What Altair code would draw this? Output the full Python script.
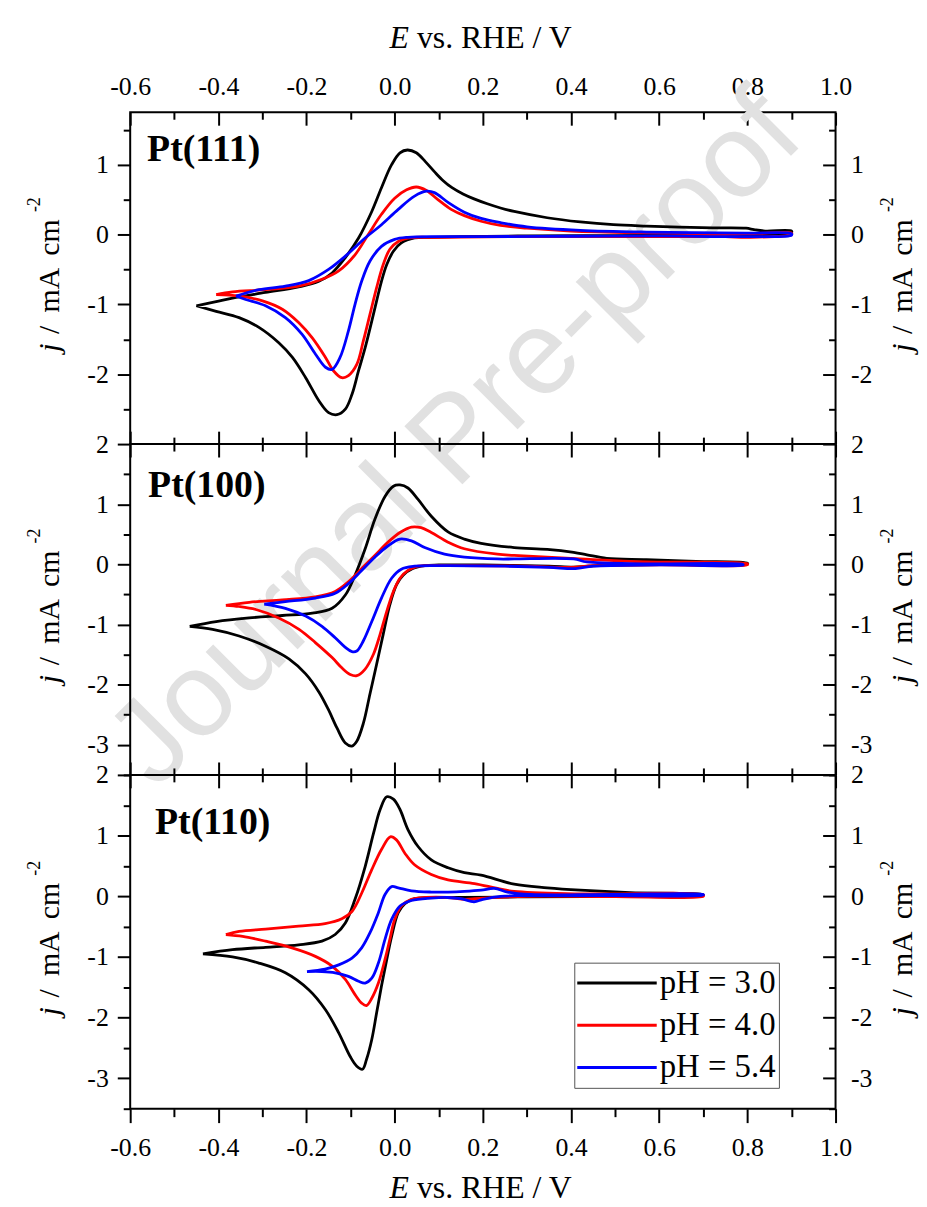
import altair as alt
import pandas as pd

FONT = "Times New Roman"
PH = ["pH = 3.0", "pH = 4.0", "pH = 5.4"]
COLORS = ["#000000", "#ff0000", "#0000ff"]

X_MAJOR = [-0.6, -0.4, -0.2, 0.0, 0.2, 0.4, 0.6, 0.8, 1.0]
X_MINOR = [-0.5, -0.3, -0.1, 0.1, 0.3, 0.5, 0.7, 0.9]
X_DOMAIN = [-0.6, 1.0]

# ---- Pt(111) : (E / V, j / mA cm-2) along the sweep ----
PT111_PH30 = [(-0.450,-1.02),(-0.405,-0.96),(-0.368,-0.91),(-0.293,-0.83),(-0.218,-0.75),(-0.172,-0.67),
 (-0.142,-0.55),(-0.112,-0.33),(-0.082,-0.05),(-0.052,0.33),(-0.030,0.67),(-0.007,1.00),(0.012,1.17),
 (0.029,1.21),(0.049,1.17),(0.070,1.04),(0.090,0.90),(0.110,0.77),(0.130,0.67),(0.155,0.58),(0.180,0.51),
 (0.210,0.44),(0.240,0.38),(0.271,0.33),(0.346,0.24),(0.421,0.18),(0.496,0.14),(0.571,0.12),(0.646,0.105),
 (0.721,0.095),(0.797,0.09),(0.815,0.07),(0.840,0.05),(0.900,0.05),(0.900,0.03),(0.850,0.00),(0.800,-0.01),
 (0.700,-0.01),(0.500,-0.015),(0.300,-0.02),(0.150,-0.03),(0.080,-0.04),(0.045,-0.05),(0.015,-0.12),
 (-0.003,-0.24),(-0.018,-0.43),(-0.030,-0.67),(-0.041,-0.95),(-0.052,-1.24),(-0.067,-1.62),(-0.082,-1.95),
 (-0.097,-2.29),(-0.112,-2.50),(-0.131,-2.58),(-0.150,-2.55),(-0.172,-2.38),(-0.202,-2.05),(-0.232,-1.76),
 (-0.263,-1.55),(-0.308,-1.33),(-0.353,-1.19),(-0.405,-1.10),(-0.450,-1.02)]
PT111_PH40 = [(-0.405,-0.86),(-0.368,-0.82),(-0.293,-0.79),(-0.218,-0.74),(-0.165,-0.64),(-0.127,-0.52),
 (-0.090,-0.29),(-0.060,0.00),(-0.030,0.29),(0.000,0.52),(0.027,0.64),(0.049,0.68),(0.072,0.63),(0.098,0.50),
 (0.128,0.36),(0.158,0.27),(0.196,0.19),(0.240,0.13),(0.300,0.09),(0.400,0.05),(0.571,0.025),(0.797,0.01),
 (0.900,0.02),(0.900,0.00),(0.800,-0.04),(0.750,-0.03),(0.600,-0.03),(0.300,-0.03),(0.100,-0.04),(0.030,-0.05),
 (0.008,-0.10),(-0.011,-0.21),(-0.026,-0.43),(-0.041,-0.76),(-0.056,-1.14),(-0.071,-1.52),(-0.086,-1.86),
 (-0.105,-2.02),(-0.120,-2.05),(-0.139,-1.95),(-0.157,-1.76),(-0.187,-1.48),(-0.218,-1.26),(-0.255,-1.07),
 (-0.300,-0.95),(-0.353,-0.88),(-0.405,-0.86)]
PT111_PH54 = [(-0.360,-0.88),(-0.308,-0.79),(-0.248,-0.74),(-0.195,-0.66),(-0.150,-0.50),(-0.112,-0.31),
 (-0.067,-0.05),(-0.030,0.14),(0.008,0.36),(0.045,0.55),(0.072,0.62),(0.090,0.60),(0.121,0.46),(0.158,0.32),
 (0.196,0.23),(0.240,0.17),(0.300,0.11),(0.421,0.06),(0.571,0.035),(0.797,0.02),(0.900,0.01),
 (0.900,-0.01),(0.800,-0.03),(0.600,-0.02),(0.400,-0.025),(0.200,-0.03),(0.100,-0.03),(0.030,-0.04),
 (0.000,-0.07),(-0.030,-0.17),(-0.056,-0.38),(-0.075,-0.67),(-0.090,-1.00),(-0.105,-1.38),(-0.124,-1.76),
 (-0.142,-1.93),(-0.157,-1.90),(-0.180,-1.71),(-0.210,-1.43),(-0.248,-1.19),(-0.293,-1.02),(-0.338,-0.93),
 (-0.360,-0.88)]

# ---- Pt(100) ----
PT100_PH30 = [(-0.465,-1.03),(-0.405,-0.95),(-0.330,-0.89),(-0.255,-0.85),(-0.187,-0.81),(-0.142,-0.73),
 (-0.112,-0.51),(-0.090,-0.18),(-0.067,0.26),(-0.045,0.75),(-0.022,1.13),(-0.003,1.30),(0.012,1.32),
 (0.030,1.27),(0.053,1.08),(0.083,0.80),(0.121,0.54),(0.158,0.42),(0.196,0.35),(0.271,0.28),(0.346,0.25),
 (0.406,0.20),(0.436,0.16),(0.481,0.10),(0.571,0.08),(0.684,0.05),(0.800,0.02),(0.800,0.00),(0.700,-0.005),
 (0.500,-0.01),(0.440,-0.03),(0.406,-0.045),(0.350,-0.03),(0.200,-0.01),(0.100,-0.01),(0.068,-0.02),
 (0.041,-0.07),(0.019,-0.18),(0.004,-0.34),(-0.011,-0.67),(-0.026,-1.16),(-0.041,-1.66),(-0.056,-2.15),
 (-0.071,-2.64),(-0.086,-2.94),(-0.097,-3.02),(-0.112,-2.97),(-0.131,-2.72),(-0.150,-2.42),(-0.172,-2.12),
 (-0.202,-1.82),(-0.240,-1.57),(-0.293,-1.36),(-0.353,-1.19),(-0.413,-1.08),(-0.465,-1.03)]
PT100_PH40 = [(-0.383,-0.68),(-0.330,-0.63),(-0.255,-0.59),(-0.180,-0.54),(-0.135,-0.45),(-0.105,-0.29),
 (-0.075,-0.07),(-0.045,0.15),(-0.015,0.37),(0.012,0.53),(0.038,0.62),(0.060,0.61),(0.083,0.53),(0.121,0.37),
 (0.158,0.26),(0.233,0.17),(0.271,0.15),(0.421,0.09),(0.571,0.04),(0.800,0.01),(0.800,-0.005),(0.600,-0.01),
 (0.450,-0.02),(0.400,-0.05),(0.300,-0.03),(0.150,-0.02),(0.080,-0.02),(0.053,-0.03),(0.030,-0.10),
 (0.012,-0.23),(-0.003,-0.45),(-0.018,-0.78),(-0.033,-1.16),(-0.048,-1.49),(-0.067,-1.74),(-0.086,-1.85),
 (-0.101,-1.83),(-0.120,-1.72),(-0.142,-1.55),(-0.180,-1.30),(-0.217,-1.08),(-0.263,-0.89),(-0.315,-0.75),
 (-0.353,-0.70),(-0.383,-0.68)]
PT100_PH54 = [(-0.296,-0.66),(-0.248,-0.62),(-0.180,-0.56),(-0.135,-0.48),(-0.105,-0.32),(-0.075,-0.10),
 (-0.045,0.12),(-0.015,0.31),(0.012,0.42),(0.038,0.39),(0.068,0.28),(0.113,0.17),(0.158,0.12),(0.233,0.09),
 (0.271,0.09),(0.406,0.09),(0.436,0.04),(0.571,0.01),(0.790,0.00),(0.790,-0.01),(0.600,-0.01),(0.450,-0.03),
 (0.410,-0.07),(0.350,-0.05),(0.250,-0.03),(0.100,-0.02),(0.045,-0.03),(0.015,-0.08),(-0.007,-0.23),
 (-0.030,-0.56),(-0.052,-0.95),(-0.071,-1.27),(-0.086,-1.44),(-0.097,-1.45),(-0.112,-1.38),(-0.135,-1.22),
 (-0.165,-1.03),(-0.202,-0.86),(-0.248,-0.73),(-0.296,-0.66)]

# ---- Pt(110) ----
PT110_PH30 = [(-0.435,-0.95),(-0.368,-0.88),(-0.293,-0.84),(-0.218,-0.80),(-0.165,-0.74),(-0.135,-0.63),
 (-0.112,-0.44),(-0.090,-0.05),(-0.067,0.49),(-0.048,1.04),(-0.033,1.43),(-0.018,1.64),(-0.003,1.60),
 (0.012,1.43),(0.030,1.10),(0.053,0.82),(0.083,0.60),(0.121,0.47),(0.158,0.39),(0.196,0.35),(0.271,0.20),
 (0.346,0.14),(0.421,0.10),(0.534,0.06),(0.699,0.03),(0.699,0.02),(0.500,0.00),(0.300,-0.01),(0.150,-0.02),
 (0.080,-0.02),(0.045,-0.04),(0.023,-0.12),(0.008,-0.27),(-0.007,-0.66),(-0.018,-1.04),(-0.030,-1.48),
 (-0.041,-1.92),(-0.052,-2.36),(-0.064,-2.69),(-0.073,-2.85),(-0.086,-2.80),(-0.101,-2.64),(-0.127,-2.25),
 (-0.157,-1.87),(-0.195,-1.54),(-0.248,-1.26),(-0.308,-1.10),(-0.368,-1.00),(-0.435,-0.95)]
PT110_PH40 = [(-0.383,-0.63),(-0.353,-0.58),(-0.293,-0.54),(-0.218,-0.49),(-0.158,-0.45),(-0.120,-0.37),
 (-0.097,-0.25),(-0.075,0.05),(-0.052,0.44),(-0.030,0.77),(-0.010,0.98),(0.004,0.93),(0.023,0.71),(0.045,0.52),
 (0.083,0.36),(0.121,0.27),(0.181,0.21),(0.233,0.13),(0.271,0.08),(0.421,0.04),(0.700,0.02),(0.700,0.00),
 (0.500,-0.005),(0.300,0.00),(0.200,-0.03),(0.160,-0.05),(0.120,-0.02),(0.070,-0.02),(0.038,-0.05),
 (0.015,-0.16),(0.000,-0.38),(-0.011,-0.71),(-0.022,-1.04),(-0.037,-1.43),(-0.052,-1.68),(-0.064,-1.80),
 (-0.075,-1.76),(-0.090,-1.62),(-0.112,-1.37),(-0.142,-1.15),(-0.180,-0.99),(-0.233,-0.85),(-0.293,-0.74),
 (-0.345,-0.66),(-0.383,-0.63)]
PT110_PH54 = [(-0.199,-1.24),(-0.158,-1.20),(-0.127,-1.13),(-0.097,-1.02),(-0.075,-0.85),(-0.056,-0.60),
 (-0.037,-0.27),(-0.022,0.03),(-0.007,0.16),(0.008,0.14),(0.038,0.09),(0.083,0.07),(0.121,0.07),(0.158,0.08),
 (0.196,0.10),(0.226,0.13),(0.256,0.07),(0.308,0.03),(0.496,0.03),(0.700,0.03),(0.700,0.02),(0.500,0.01),
 (0.300,0.01),(0.240,0.00),(0.200,-0.05),(0.180,-0.09),(0.150,-0.04),(0.120,-0.02),(0.083,-0.03),
 (0.038,-0.07),(0.012,-0.16),(-0.007,-0.38),(-0.022,-0.71),(-0.037,-1.10),(-0.052,-1.35),(-0.067,-1.43),
 (-0.082,-1.40),(-0.105,-1.32),(-0.135,-1.26),(-0.165,-1.24),(-0.199,-1.24)]

PANELS = [
    dict(name="Pt(111)", series=[PT111_PH30, PT111_PH40, PT111_PH54], ydom=[-3, 1.75],
         ymaj=[-2, -1, 0, 1], ymin=[-2.5, -1.5, -0.5, 0.5, 1.5], h=334, lab=(17, 49)),
    dict(name="Pt(100)", series=[PT100_PH30, PT100_PH40, PT100_PH54], ydom=[-3.5, 2],
         ymaj=[-3, -2, -1, 0, 1, 2], ymin=[-3.5, -2.5, -1.5, -0.5, 0.5, 1.5], h=333, lab=(18, 53)),
    dict(name="Pt(110)", series=[PT110_PH30, PT110_PH40, PT110_PH54], ydom=[-3.5, 2],
         ymaj=[-3, -2, -1, 0, 1, 2], ymin=[-3.5, -2.5, -1.5, -0.5, 0.5, 1.5], h=336, lab=(25, 59)),
]

W = 710
XLAB = "datum.value < 0 ? '-' + format(-datum.value, '.1f') : format(datum.value, '.1f')"
YLAB = "datum.value < 0 ? '-' + format(-datum.value, 'd') : format(datum.value, 'd')"


def axis(orient, values, size, labels=False, pad=0, expr=None):
    kw = dict(orient=orient, values=values, domain=False, grid=False, title=None,
              ticks=True, tickColor="black", tickWidth=2, labels=labels,
              tickSize=size if size >= 0 else {"expr": str(size)})
    if labels:
        kw.update(labelFont=FONT, labelFontSize=26, labelColor="black", labelPadding=pad,
                  labelFlush=False, labelOverlap=False, labelExpr=expr)
    return alt.Axis(**kw)


def text(t, x, y, size, align="left", baseline="alphabetic", angle=0, dx=0, dy=0,
         style="normal", weight="normal", font=FONT, color="black"):
    kw = dict(text=t, align=align, baseline=baseline, font=font, fontSize=size,
              fontStyle=style, fontWeight=weight, color=color)
    if dx:
        kw["dx"] = dx
    if dy:
        kw["dy"] = dy
    if angle:
        kw["angle"] = angle
    return alt.Chart(pd.DataFrame({"a": [0]})).mark_text(**kw).encode(
        x=alt.value(x), y=alt.value(y))


def ytitle(x, h):
    yc = h / 2
    parts = [("j", -70, "italic", 30, 0), ("/", -52, "normal", 30, 0),
             ("mA", -12, "normal", 30, 0), ("cm", 41, "normal", 30, 0),
             ("-2", 74, "normal", 18, -19)]
    return [text(t, x, yc, s, align="center", angle=270, dx=d, dy=dy, style=st)
            for (t, d, st, s, dy) in parts]


def xtitle(y):
    return [text("E", 261, y, 32, style="italic"),
            text("vs. RHE / V", 288.6, y, 32)]


def panel(idx):
    p = PANELS[idx]
    xs = alt.Scale(domain=X_DOMAIN, nice=False, zero=False)
    ys = alt.Scale(domain=p["ydom"], nice=False, zero=False)
    rows = []
    for ph, pairs in zip(PH, p["series"]):
        for i, (e, j) in enumerate(pairs):
            rows.append({"E": e, "j": j, "pH": ph, "i": i})
    df = pd.DataFrame(rows)
    corners = pd.DataFrame({"E": X_DOMAIN, "j": p["ydom"]})

    top, bottom = idx == 0, idx == 2
    xt_major = axis("top", X_MAJOR, -13, labels=top, pad=26, expr=XLAB)
    xt_minor = axis("top", X_MINOR, -7)
    if bottom:
        xb_major = axis("bottom", X_MAJOR, 14, labels=True, pad=12, expr=XLAB)
        xb_minor = axis("bottom", X_MINOR, 8)
    else:
        xb_major = axis("bottom", X_MAJOR, -13)
        xb_minor = axis("bottom", X_MINOR, -7)
    yl_major = axis("left", p["ymaj"], 13, labels=True, pad=9, expr=YLAB)
    yl_minor = axis("left", p["ymin"], 7)
    yr_major = axis("right", p["ymaj"], -13, labels=True, pad=28, expr=YLAB)
    yr_minor = axis("right", p["ymin"], -7)

    def ax_layer(xa, ya):
        return alt.Chart(corners).mark_point(opacity=0).encode(
            x=alt.X("E:Q", scale=xs, axis=xa), y=alt.Y("j:Q", scale=ys, axis=ya))

    layers = []
    if top:
        layers.append(text("Journal Pre-proof", 328, 330, 120, align="center", baseline="middle",
                           angle=315, font="Liberation Sans", color="#e1e1e1"))
    if bottom:
        legend = alt.Legend(orient="none", legendX=447, legendY=189, title=None,
                            symbolType="M-2.5,0H2.5", symbolSize=1024, symbolStrokeWidth=3,
                            symbolOffset=22.5, labelOffset=25.5,
                            labelFont=FONT, labelFontSize=33, labelColor="black",
                            labelLimit=400, padding=3, rowPadding=7.5, strokeColor="#555555",
                            fillColor="white")
    else:
        legend = None
    curves = alt.Chart(df).mark_line(strokeWidth=2.8, interpolate="catmull-rom").encode(
        x=alt.X("E:Q", scale=xs, axis=None),
        y=alt.Y("j:Q", scale=ys, axis=None),
        color=alt.Color("pH:N", scale=alt.Scale(domain=PH, range=COLORS), legend=legend),
        order=alt.Order("i:Q"))
    layers.append(curves)
    layers += [ax_layer(xt_major, yl_major), ax_layer(xt_minor, yl_minor),
               ax_layer(xb_major, yr_major), ax_layer(xb_minor, yr_minor)]
    layers.append(text(p["name"], p["lab"][0], p["lab"][1], 38, weight="bold"))
    layers += ytitle(-72, p["h"]) + ytitle(787, p["h"])
    if top:
        layers += xtitle(-64.5)
    if bottom:
        layers += xtitle(426)
    return alt.layer(*layers).resolve_axis(x="independent", y="independent").properties(
        width=W, height=p["h"])


chart = alt.vconcat(panel(0), panel(1), panel(2), spacing=0, bounds="flush").resolve_scale(
    color="independent").properties(
    padding={"left": 17, "top": 9, "right": 0, "bottom": 0},
    background="white").configure_view(stroke="black", strokeWidth=2)

chart.save("out.html", embed_options={"renderer": "svg", "actions": False})
